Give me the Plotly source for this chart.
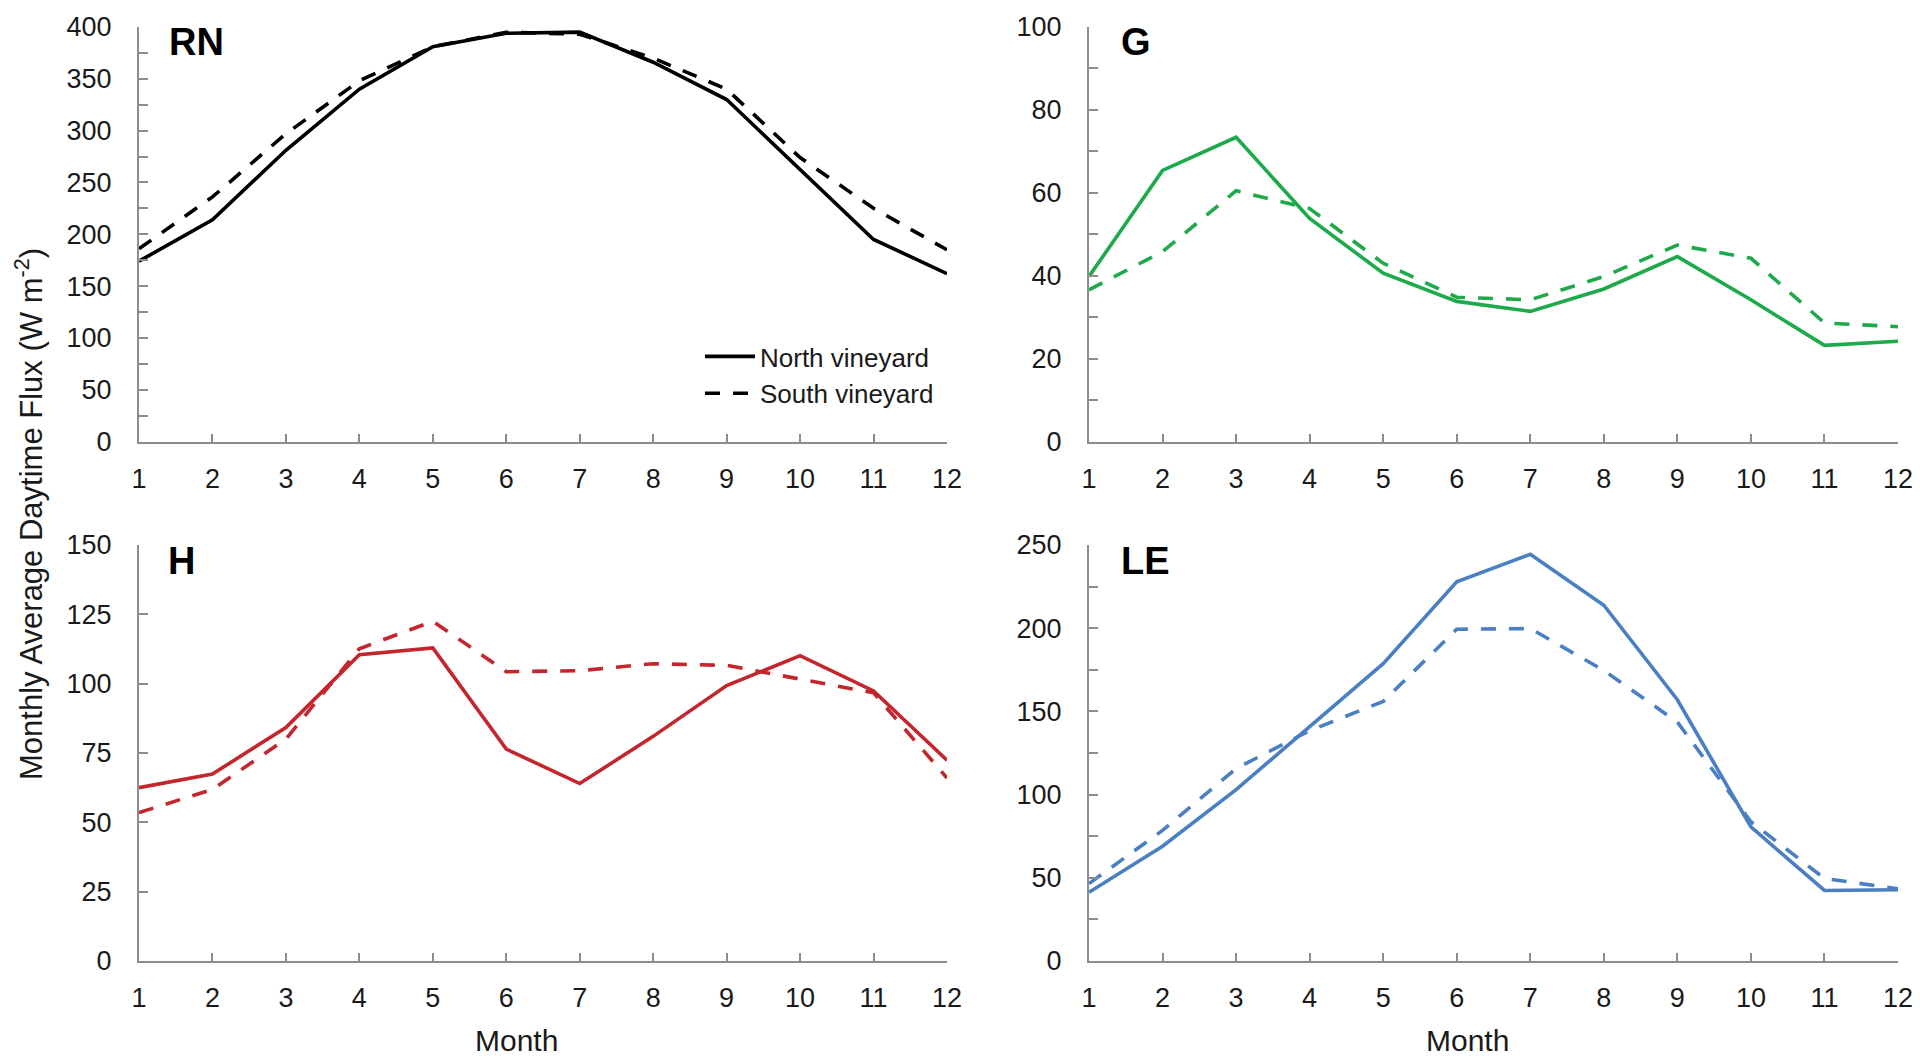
import plotly.graph_objects as go

months = list(range(1, 13))

rn_north = [174, 214, 281, 340, 381, 394, 395, 366, 330, 262, 195, 162]
rn_south = [186, 236, 297, 348, 381, 395, 393, 370, 340, 274, 225, 185]

g_north = [39.8, 65.4, 73.4, 53.8, 40.6, 33.8, 31.4, 36.8, 44.6, 34.2, 23.2, 24.2]
g_south = [36.6, 45.8, 60.5, 56.2, 43.0, 34.8, 34.2, 39.8, 47.4, 44.2, 28.6, 27.7]

h_north = [62.5, 67.4, 84.2, 110.4, 112.9, 76.4, 64.0, 81.0, 99.3, 110.1, 97.4, 72.4]
h_south = [53.5, 61.9, 80.0, 112.6, 122.5, 104.3, 104.7, 107.2, 106.6, 101.6, 96.7, 66.0]

le_north = [41.3, 69.0, 103.0, 140.5, 178.7, 227.9, 244.4, 213.8, 157.0, 80.6, 42.4, 42.8]
le_south = [46.5, 78.5, 115.7, 138.4, 156.0, 199.4, 199.8, 174.6, 143.6, 83.7, 49.6, 43.4]

panel_names = ["RN", "G", "H", "LE"]
series_names = ["North vineyard", "South vineyard"]
colors = ["#000000", "#1eaa4b", "#c3262c", "#4a7fc2"]
y_ranges = [(0, 400, 50, 25), (0, 100, 20, 10), (0, 150, 25, 25), (0, 250, 50, 25)]
x_label = "Month"
y_label = "Monthly Average Daytime Flux (W m<sup>-2</sup>)"

data = [(rn_north, rn_south), (g_north, g_south), (h_north, h_south), (le_north, le_south)]

# page has an 8px body margin; figure sized to fit the window exactly
OFF = 8
W, H = 1920 - OFF, 1059 - OFF
FONT = "Liberation Sans, Arial, Helvetica, sans-serif"
AXC = "#8c8c8c"
TXT = "#1a1a1a"


def px_x(v):
    return (v - OFF) / W


def px_y(v):
    return 1 - (v - OFF) / H


# pixel boxes (in window coordinates) for panels: (left, right, top, bottom)
boxes = [(139, 947, 27, 441.5), (1089, 1898, 27, 441.5),
         (139, 947, 545, 961), (1089, 1898, 545, 961)]

fig = go.Figure()
layout = dict(width=W, height=H, autosize=False, paper_bgcolor="white", plot_bgcolor="white",
              margin=dict(l=0, r=0, t=0, b=0, autoexpand=False),
              font=dict(family=FONT, color=TXT, size=27))

for i, (north, south) in enumerate(data):
    xa = "x" if i == 0 else f"x{i+1}"
    ya = "y" if i == 0 else f"y{i+1}"
    for j, (vals, dash) in enumerate([(north, "solid"), (south, "15px,13px")]):
        fig.add_trace(go.Scatter(
            x=months, y=vals, mode="lines", name=series_names[j],
            line=dict(color=colors[i], width=3.6, dash=dash),
            xaxis=xa, yaxis=ya, showlegend=(i == 0), cliponaxis=False,
            legendgroup=series_names[j]))
    l, r, t, b = boxes[i]
    ymin, ymax, dt, mdt = y_ranges[i]
    xkey = "xaxis" if i == 0 else f"xaxis{i+1}"
    ykey = "yaxis" if i == 0 else f"yaxis{i+1}"
    layout[xkey] = dict(domain=[px_x(l), px_x(r)], anchor=ya, range=[1, 12], automargin=False,
                        tickmode="array", tickvals=months, ticktext=[str(m) for m in months],
                        showline=True, linecolor=AXC, linewidth=2,
                        ticks="inside", ticklen=8, tickwidth=2, tickcolor=AXC,
                        showgrid=False, zeroline=False,
                        tickfont=dict(size=27, color=TXT, family=FONT), ticklabelstandoff=12)
    layout[ykey] = dict(domain=[px_y(b), px_y(t)], anchor=xa, range=[ymin, ymax],
                        automargin=False,
                        tickmode="linear", tick0=0, dtick=dt,
                        showline=True, linecolor=AXC, linewidth=2,
                        ticks="inside", ticklen=9, tickwidth=2, tickcolor=AXC,
                        minor=dict(dtick=mdt, ticks="inside", ticklen=9, tickwidth=2,
                                   tickcolor=AXC, showgrid=False),
                        showgrid=False, zeroline=False,
                        tickfont=dict(size=27, color=TXT, family=FONT), ticklabelstandoff=20)

annotations = []
label_pos = [(167, 42), (1119, 42), (166, 561), (1119, 561)]
for name, (px, py) in zip(panel_names, label_pos):
    annotations.append(dict(text=f"<b>{name}</b>", x=px_x(px), y=px_y(py), xref="paper", yref="paper",
                            xanchor="left", yanchor="middle", showarrow=False,
                            font=dict(size=38, color="#000", family=FONT)))
for px in (516, 1467):
    annotations.append(dict(text=x_label, x=px_x(px), y=px_y(1040), xref="paper", yref="paper",
                            xanchor="center", yanchor="middle", showarrow=False,
                            font=dict(size=30, color=TXT, family=FONT)))
annotations.append(dict(text=y_label, x=0, y=px_y(514), xref="paper", yref="paper",
                        xanchor="left", yanchor="middle", textangle=-90, showarrow=False,
                        borderpad=0,
                        font=dict(size=31, color=TXT, family=FONT)))
layout["annotations"] = annotations
layout["showlegend"] = True
layout["legend"] = dict(x=px_x(700), y=px_y(333), xanchor="left", yanchor="top",
                        bgcolor="rgba(0,0,0,0)", font=dict(size=26, color=TXT, family=FONT),
                        itemwidth=50, tracegroupgap=0)

fig.update_layout(**layout)
fig.write_html("out.html")
